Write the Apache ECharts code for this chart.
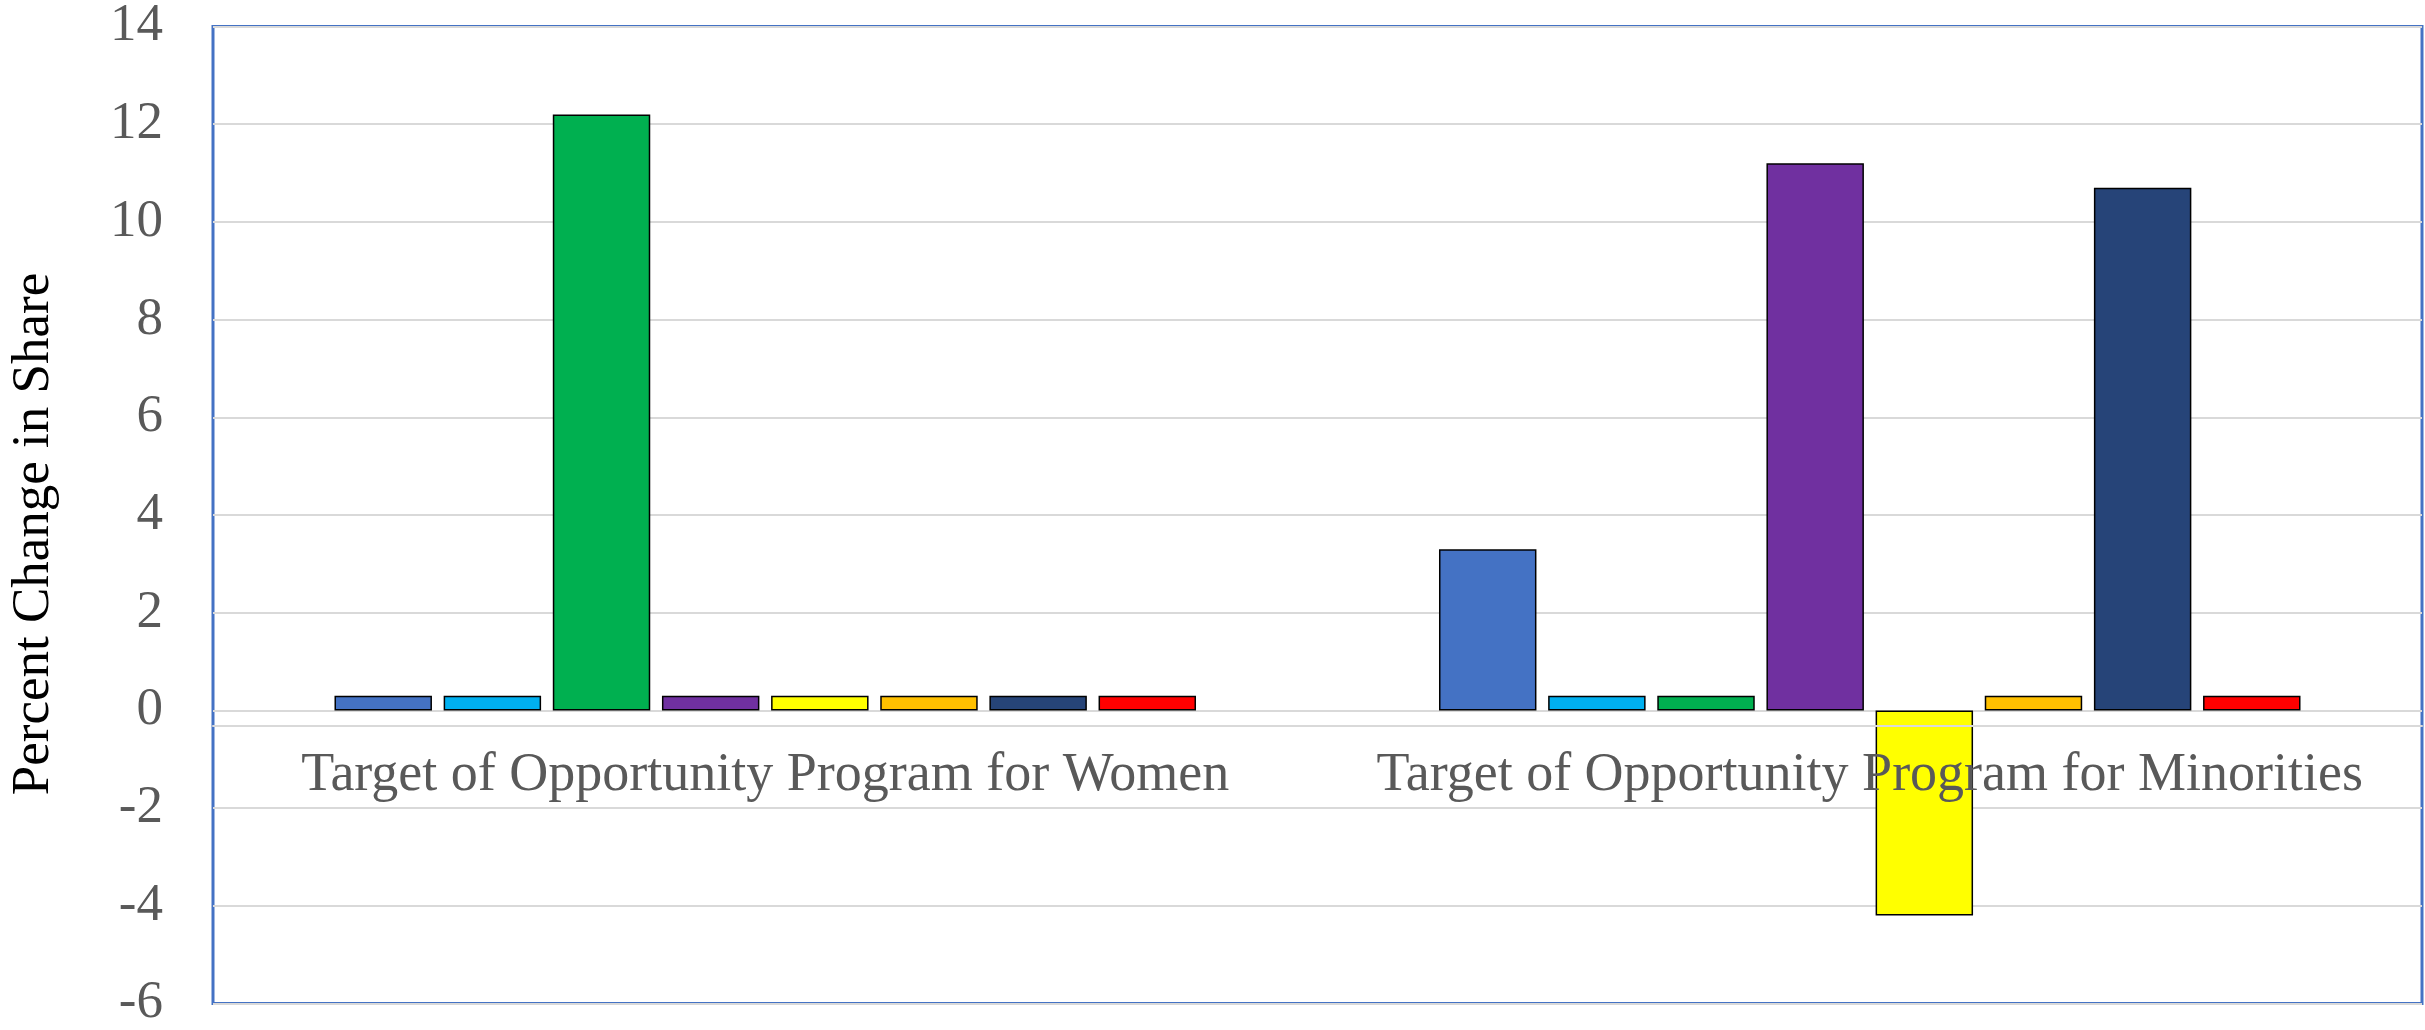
<!DOCTYPE html>
<html>
<head>
<meta charset="utf-8">
<script src="https://cdn.jsdelivr.net/npm/echarts@6/dist/echarts.min.js"></script>
<style>html,body{margin:0;padding:0;background:#fff;}#c{width:2425px;height:1030px;}</style>
</head>
<body>
<div id="c"></div>
<script>
const categories = ["Target of Opportunity Program for Women", "Target of Opportunity Program for Minorities"];
const seriesNames = ["Series 1", "Series 2", "Series 3", "Series 4", "Series 5", "Series 6", "Series 7", "Series 8"];
const s1 = [0.3, 3.3];
const s2 = [0.3, 0.3];
const s3 = [12.2, 0.3];
const s4 = [0.3, 11.2];
const s5 = [0.3, -4.2];
const s6 = [0.3, 0.3];
const s7 = [0.3, 10.7];
const s8 = [0.3, 0.3];
const seriesValues = [s1, s2, s3, s4, s5, s6, s7, s8];
const colors = ["#4472C4", "#00B0F0", "#00B050", "#7030A0", "#FFFF00", "#FFC000", "#264478", "#FF0000"];
const yTicks = { min: -6, max: 14, interval: 2 };
const yAxisTitle = "Percent Change in Share";

const font = "Liberation Serif";
const gridBottom = 22;
const chart = echarts.init(document.getElementById('c'));
chart.setOption({
  animation: false,
  backgroundColor: '#fff',
  grid: { left: 206, right: 3, top: 22, bottom: gridBottom, show: true, borderColor: '#4472C4', borderWidth: 3, containLabel: false },
  xAxis: {
    type: 'category',
    data: categories,
    z: 10,
    position: 'bottom',
    offset: 0,
    axisLine: { onZero: false, lineStyle: { color: '#D9D9D9', width: 2 } },
    axisTick: { show: false },
    axisLabel: { color: '#595959', fontSize: 54, fontFamily: font, margin: 23, interval: 0 },
    splitLine: { show: false }
  },
  yAxis: {
    type: 'value',
    min: yTicks.min, max: yTicks.max, interval: yTicks.interval,
    name: yAxisTitle,
    nameLocation: 'middle',
    nameGap: 152,
    nameRotate: 90,
    nameTextStyle: { color: '#000', fontSize: 53, fontFamily: font, padding: [0, 38, 0, 0] },
    axisLine: { show: false },
    axisTick: { show: false },
    axisLabel: { color: '#595959', fontSize: 53, fontFamily: font, margin: 50 },
    splitLine: { lineStyle: { color: '#D9D9D9', width: 2 } }
  },
  series: seriesValues.map((vals, i) => ({
    name: seriesNames[i],
    type: 'bar',
    data: vals,
    barGap: '12%',
    barCategoryGap: '22%',
    itemStyle: { color: colors[i], borderColor: '#000', borderWidth: 1.5 }
  }))
});
// Move the category axis up to the zero line using the library's own scale
const zeroY = chart.convertToPixel({ yAxisIndex: 0 }, 0);
const bottomY = chart.convertToPixel({ yAxisIndex: 0 }, yTicks.min);
chart.setOption({ xAxis: { offset: -(bottomY - zeroY) } });
</script>
</body>
</html>
